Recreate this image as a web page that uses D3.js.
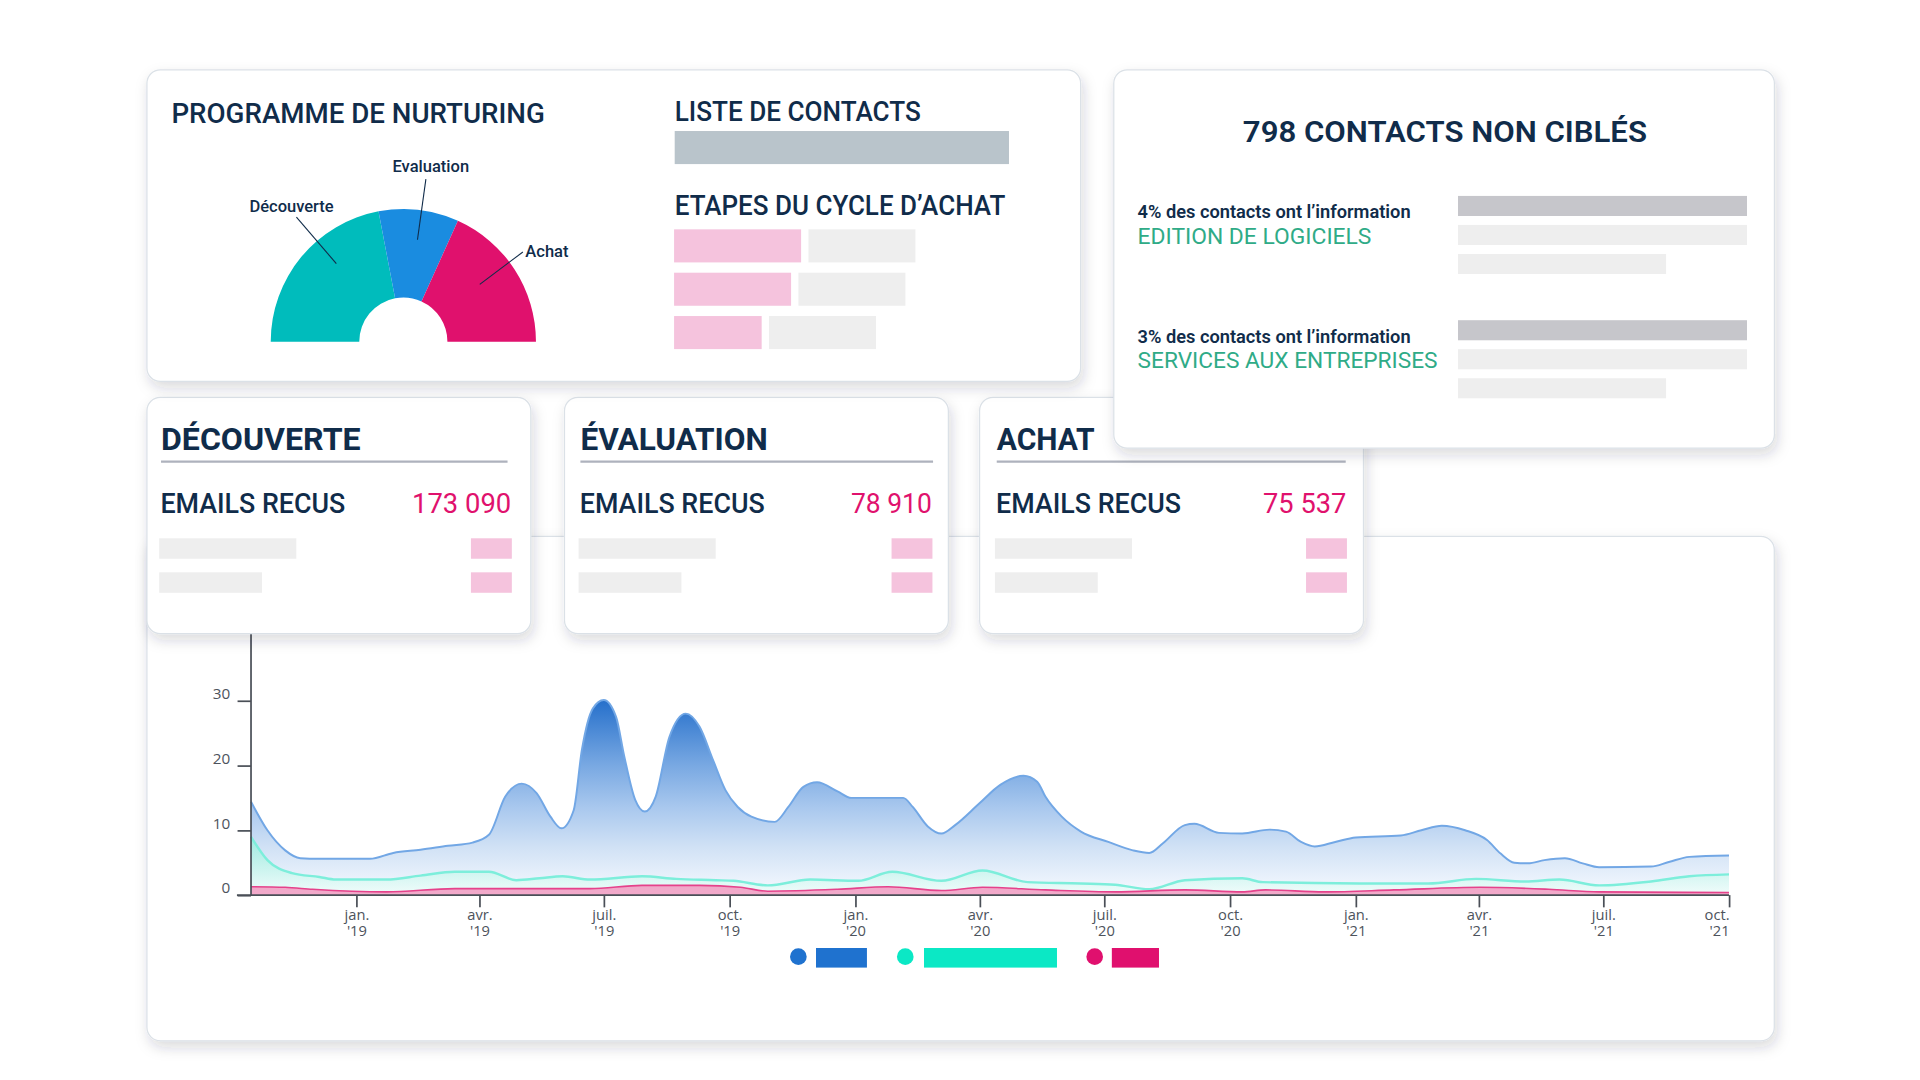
<!DOCTYPE html>
<html lang="fr">
<head>
<meta charset="utf-8">
<title>Programme de nurturing</title>
<script src="https://cdn.jsdelivr.net/npm/d3@7"></script>
<style>
  html, body { margin: 0; padding: 0; background: #fff; }
  svg { display: block; }
  text { font-family: Roboto, "Noto Sans", sans-serif; }
  .tick text { font-family: "Open Sans", sans-serif; }
</style>
</head>
<body>
<svg id="board" width="1920" height="1080" viewBox="0 0 1568 882"></svg>
<script>
// ---- data ----
var gaugeLabels = ["Découverte", "Evaluation", "Achat"];
var gaugeValues = [44, 19.5, 36.5];

var stageNames = ["DÉCOUVERTE", "ÉVALUATION", "ACHAT"];
var emailCounts = [173090, 78910, 75537];

var sectorShares = [4, 3];
var sectorNames = ["EDITION DE LOGICIELS", "SERVICES AUX ENTREPRISES"];

// placeholder bars, in % of the bar area
var cycleStagesPink = [38, 35, 26.2];
var cycleStagesGrey = [32, 32, 32];
var sectorBars = [100, 100, 72];

var blueDates = ["2018-10-16","2018-10-28","2018-11-10","2018-11-21","2018-12-05","2019-01-11","2019-01-28",
  "2019-02-17","2019-03-09","2019-03-27","2019-04-08","2019-04-20","2019-05-02","2019-05-13","2019-05-23",
  "2019-05-31","2019-06-09","2019-06-15","2019-06-23","2019-07-01","2019-07-10","2019-07-16","2019-07-24",
  "2019-07-31","2019-08-08","2019-08-18","2019-08-30","2019-09-09","2019-09-19","2019-09-28","2019-10-07",
  "2019-10-17","2019-11-03","2019-11-13","2019-11-24","2019-12-04","2019-12-19","2019-12-29","2020-01-18",
  "2020-02-05","2020-02-12","2020-02-23","2020-03-04","2020-03-14","2020-04-01","2020-04-16","2020-05-03",
  "2020-05-13","2020-05-19","2020-05-31","2020-06-14","2020-07-04","2020-07-22","2020-08-03","2020-08-13",
  "2020-08-29","2020-09-05","2020-09-23","2020-10-10","2020-10-30","2020-11-11","2020-11-22","2020-12-02",
  "2020-12-17","2021-01-01","2021-02-03","2021-02-18","2021-03-05","2021-03-22","2021-04-07","2021-04-17",
  "2021-04-27","2021-05-07","2021-05-19","2021-06-03","2021-06-16","2021-06-28","2021-08-05","2021-08-18",
  "2021-09-02","2021-10-01"];
var blueValues = [14.4,10.0,6.9,5.7,5.6,5.6,6.5,
  7.0,7.6,8.1,9.3,15.2,17.2,15.7,12.1,
  10.3,13.1,22.4,28.8,30.1,27.5,21.4,14.7,
  12.9,15.2,24.4,28.0,26.0,20.8,16.2,13.6,
  12.1,11.3,13.6,16.7,17.4,16.0,15.0,15.0,
  15.0,13.6,10.6,9.5,10.8,14.2,17.0,18.4,
  17.5,15.2,12.1,9.8,8.2,6.9,6.5,8.0,
  10.8,11.0,9.6,9.5,10.1,9.8,8.2,7.5,
  8.2,8.9,9.2,10.0,10.7,10.0,8.5,6.4,
  5.0,4.9,5.4,5.7,4.9,4.3,4.4,5.1,
  5.9,6.1];

var tealDates = ["2018-10-16","2018-10-28","2018-11-15","2018-12-05","2018-12-17","2019-01-23","2019-02-17",
  "2019-03-14","2019-04-08","2019-04-28","2019-05-15","2019-06-01","2019-06-21","2019-07-29","2019-08-23",
  "2019-09-21","2019-10-04","2019-10-29","2019-11-29","2020-01-03","2020-01-28","2020-03-04","2020-04-03",
  "2020-05-06","2020-06-14","2020-07-09","2020-08-03","2020-08-29","2020-10-10","2020-10-25","2021-01-04",
  "2021-02-23","2021-03-30","2021-05-05","2021-05-30","2021-06-28","2021-08-05","2021-09-02","2021-10-01"];
var tealValues = [9.0,5.4,3.4,2.8,2.4,2.4,3.0,
  3.6,3.6,2.3,2.6,2.9,2.4,2.9,2.5,
  2.3,2.2,1.5,2.4,2.2,3.6,2.2,3.8,
  2.0,1.8,1.6,0.9,2.3,2.6,2.0,1.8,
  1.8,2.5,2.1,2.4,1.5,2.1,2.9,3.2];

var pinkDates = ["2018-10-16","2018-11-10","2018-11-30","2019-01-23","2019-03-14","2019-05-03","2019-06-21",
  "2019-07-29","2019-09-09","2019-10-09","2019-10-29","2019-12-19","2020-01-25","2020-03-04","2020-04-03",
  "2020-05-19","2020-07-09","2020-08-29","2020-10-10","2020-10-27","2020-12-09","2021-01-29","2021-04-02",
  "2021-05-22","2021-06-28","2021-10-01"];
var pinkValues = [1.3,1.2,0.9,0.5,1.0,1.0,1.0,
  1.5,1.5,1.2,0.6,0.9,1.3,0.7,1.2,
  0.8,0.5,0.8,0.5,0.8,0.5,0.8,1.2,
  0.9,0.5,0.4];

var xTickDates = ["2019-01-01","2019-04-01","2019-07-01","2019-10-01","2020-01-01","2020-04-01",
  "2020-07-01","2020-10-01","2021-01-01","2021-04-01","2021-07-01","2021-10-01"];
var xTickMonths = ["jan.","avr.","juil.","oct.","jan.","avr.","juil.","oct.","jan.","avr.","juil.","oct."];
var xTickYears = ["'19","'19","'19","'19","'20","'20","'20","'20","'21","'21","'21","'21"];
var yTicks = [0, 10, 20, 30];

// ---- setup ----
var navy = "#102c4a", pink = "#e0116d", teal = "#00bcbc", blue = "#1a8ce0";
var svg = d3.select("#board");
var defs = svg.append("defs");
var parse = d3.timeParse("%Y-%m-%d");
var fr = d3.formatLocale({decimal: ",", thousands: " ", grouping: [3], currency: ["", " €"]});
var fmt = fr.format(",d");

var sh = defs.append("filter").attr("id", "shadow")
  .attr("x", "-10%").attr("y", "-10%").attr("width", "125%").attr("height", "135%");
sh.append("feDropShadow").attr("dx", 2).attr("dy", 5).attr("stdDeviation", 5)
  .attr("flood-color", "#1b2a3a").attr("flood-opacity", 0.17);

function panel(x0, y0, w, h) {
  svg.append("rect").attr("x", x0).attr("y", y0).attr("width", w).attr("height", h)
    .attr("rx", 11).attr("fill", "#fff").attr("stroke", "#dbe1e7").attr("stroke-width", 1)
    .attr("filter", "url(#shadow)");
}
function label(txt, x0, y0, size, weight, width, color, anchor) {
  var t = svg.append("text").attr("x", x0).attr("y", y0).attr("font-size", size)
    .attr("font-weight", weight).attr("fill", color || navy)
    .attr("text-anchor", anchor || "start").text(txt);
  if (width) t.attr("textLength", width).attr("lengthAdjust", "spacingAndGlyphs");
  return t;
}

// ---- chart panel ----
panel(120, 438, 1329, 412);

var x = d3.scaleTime().domain([parse("2018-10-16"), parse("2021-10-01")]).range([205, 1412]);
var y = d3.scaleLinear().domain([0, 30]).range([731, 572.2]);

var gB = defs.append("linearGradient").attr("id", "blueFill").attr("gradientUnits", "userSpaceOnUse")
  .attr("x1", 0).attr("x2", 0).attr("y1", y(30)).attr("y2", y(0));
[[0, "#2670cb"], [0.33, "#78a8e2"], [0.55, "#a9c8ee"], [0.75, "#d0e1f5"], [1, "#f7faff"]].forEach(function(s) {
  gB.append("stop").attr("offset", s[0]).attr("stop-color", s[1]);
});
var gT = defs.append("linearGradient").attr("id", "tealFill").attr("gradientUnits", "userSpaceOnUse")
  .attr("x1", 0).attr("x2", 0).attr("y1", y(9)).attr("y2", y(0));
gT.append("stop").attr("offset", 0).attr("stop-color", "#8cefd8").attr("stop-opacity", 0.7);
gT.append("stop").attr("offset", 1).attr("stop-color", "#f0fdfa").attr("stop-opacity", 0.75);

function series(dates, values) {
  return dates.map(function(d, i) { return {date: parse(d), v: values[i]}; });
}
var area = d3.area().x(function(d) { return x(d.date); }).y0(y(0))
  .y1(function(d) { return y(d.v); }).curve(d3.curveMonotoneX);
var line = d3.line().x(function(d) { return x(d.date); })
  .y(function(d) { return y(d.v); }).curve(d3.curveMonotoneX);

var blueS = series(blueDates, blueValues);
var tealS = series(tealDates, tealValues);
var pinkS = series(pinkDates, pinkValues);

svg.append("path").datum(blueS).attr("d", area).attr("fill", "url(#blueFill)");
svg.append("path").datum(blueS).attr("d", line).attr("fill", "none")
  .attr("stroke", "#72a7e5").attr("stroke-width", 1.6);
svg.append("path").datum(tealS).attr("d", area).attr("fill", "url(#tealFill)");
svg.append("path").datum(tealS).attr("d", line).attr("fill", "none")
  .attr("stroke", "#7deedb").attr("stroke-width", 2);
svg.append("path").datum(pinkS).attr("d", area).attr("fill", "#f38dba").attr("fill-opacity", 0.75);
svg.append("path").datum(pinkS).attr("d", line).attr("fill", "none")
  .attr("stroke", "#e5428b").attr("stroke-width", 1.3);

var axisColor = "#4a4f57";
var yAxis = svg.append("g").attr("transform", "translate(205,0)")
  .call(d3.axisLeft(y).tickValues(yTicks).tickSize(11).tickPadding(6));
yAxis.select(".domain").remove();
yAxis.selectAll("line").attr("stroke", axisColor).attr("stroke-width", 1.4);
yAxis.selectAll("text").attr("fill", "#4d535c").attr("font-size", 12.5).attr("dy", "-0.15em");

var xAxis = svg.append("g").attr("transform", "translate(0," + y(0) + ")")
  .call(d3.axisBottom(x).tickValues(xTickDates.map(parse)).tickSize(10).tickFormat(""));
xAxis.select(".domain").remove();
xAxis.selectAll("line").attr("stroke", axisColor).attr("stroke-width", 1.4);
xAxis.selectAll(".tick").each(function(d, i) {
  var t = d3.select(this).append("text").attr("fill", "#4d535c").attr("font-size", 12)
    .attr("text-anchor", i === xTickDates.length - 1 ? "end" : "middle");
  t.append("tspan").attr("x", 0).attr("y", 20.5).text(xTickMonths[i]);
  t.append("tspan").attr("x", 0).attr("y", 33.5).text(xTickYears[i]);
});
svg.append("line").attr("x1", 205).attr("x2", 205).attr("y1", 450).attr("y2", y(0))
  .attr("stroke", axisColor).attr("stroke-width", 1.4);
svg.append("line").attr("x1", 193.5).attr("x2", 1412).attr("y1", y(0)).attr("y2", y(0))
  .attr("stroke", axisColor).attr("stroke-width", 1.4);

// legend
var legendColors = ["#1f72cf", "#0be8c5", "#e0106e"];
var legendDots = [652, 739.3, 894];
var legendRects = [[666.4, 41.6], [754.6, 108.6], [908, 38.5]];
legendColors.forEach(function(c, i) {
  svg.append("circle").attr("cx", legendDots[i]).attr("cy", 781.3).attr("r", 6.8).attr("fill", c);
  svg.append("rect").attr("x", legendRects[i][0]).attr("y", 774.2).attr("width", legendRects[i][1])
    .attr("height", 16).attr("fill", c);
});

// ---- stage cards ----
var cardX = [120, 461, 800];
var textX = [131.5, 474, 814];
var rightX = [418, 761.5, 1100];
var sepW = [283, 288, 285];
var titleW = [163, 153, 80];
var valueW = [81, 66, 68];
stageNames.forEach(function(name, i) {
  panel(cardX[i], 324.5, 313.5, 193);
  var right = rightX[i];
  label(name, textX[i], 367.5, 25, 700, titleW[i]);
  svg.append("line").attr("x1", textX[i]).attr("x2", textX[i] + sepW[i]).attr("y1", 377).attr("y2", 377)
    .attr("stroke", "#aeb2bd").attr("stroke-width", 1.8);
  label("EMAILS RECUS", textX[i] - 0.5, 418.7, 22, 500, 151);
  label(fmt(emailCounts[i]), right - 0.5, 418.7, 22, 400, valueW[i], pink, "end");
  svg.append("rect").attr("x", textX[i] - 1.5).attr("y", 439.6).attr("width", 112).attr("height", 16.7).attr("fill", "#eeeeee");
  svg.append("rect").attr("x", textX[i] - 1.5).attr("y", 467.4).attr("width", 84).attr("height", 16.7).attr("fill", "#eeeeee");
  svg.append("rect").attr("x", right - 33.4).attr("y", 439.6).attr("width", 33.4).attr("height", 16.7).attr("fill", "#f5c3dd");
  svg.append("rect").attr("x", right - 33.4).attr("y", 467.4).attr("width", 33.4).attr("height", 16.7).attr("fill", "#f5c3dd");
});

// ---- nurturing panel ----
panel(120, 57, 762.5, 254.5);
label("PROGRAMME DE NURTURING", 140, 100.7, 22, 500, 305);
label("LISTE DE CONTACTS", 551, 98.6, 22, 500, 201);
label("ETAPES DU CYCLE D\u2019ACHAT", 551, 175.6, 22, 500, 270);

var barW = d3.scaleLinear().domain([0, 100]).range([0, 273]);
svg.append("rect").attr("x", 551).attr("y", 107).attr("width", barW(100)).attr("height", 27).attr("fill", "#b9c4cb");
var rowY = [187.3, 222.7, 258.1];
cycleStagesPink.forEach(function(v, i) {
  svg.append("rect").attr("x", 550.5).attr("y", rowY[i]).attr("width", barW(v)).attr("height", 27).attr("fill", "#f5c3dd");
  svg.append("rect").attr("x", 550.5 + barW(v) + 6).attr("y", rowY[i]).attr("width", barW(cycleStagesGrey[i]))
    .attr("height", 27).attr("fill", "#eeeeee");
});

// gauge
var gCx = 329.4, gCy = 279;
var pie = d3.pie().sort(null).startAngle(-Math.PI / 2).endAngle(Math.PI / 2);
var arc = d3.arc().innerRadius(36).outerRadius(108.3);
var gaugeColors = [teal, blue, pink];
var gauge = svg.append("g").attr("transform", "translate(" + gCx + "," + gCy + ")");
var arcs = pie(gaugeValues);
gauge.selectAll("path").data(arcs).join("path").attr("d", arc)
  .attr("fill", function(d, i) { return gaugeColors[i]; });
// leader lines + labels: [angle shift from slice middle, inner r, outer r, dx, dy, anchor]
var leaders = [[0.17, 84, 134, -4, -4.3, "middle"], [0.02, 84, 134, 4, -6, "middle"], [-0.07, 78, 122, 2, 4, "start"]];
arcs.forEach(function(a, i) {
  var L = leaders[i];
  var m = (a.startAngle + a.endAngle) / 2 + L[0];
  var p1 = [Math.sin(m) * L[1], -Math.cos(m) * L[1]], p2 = [Math.sin(m) * L[2], -Math.cos(m) * L[2]];
  gauge.append("line").attr("x1", p1[0]).attr("y1", p1[1]).attr("x2", p2[0]).attr("y2", p2[1])
    .attr("stroke", navy).attr("stroke-width", 0.9);
  gauge.append("text").attr("x", p2[0] + L[3]).attr("y", p2[1] + L[4])
    .attr("text-anchor", L[5]).attr("font-size", 13.5).attr("font-weight", 500)
    .attr("fill", navy).text(gaugeLabels[i]);
});

// ---- contacts panel ----
panel(909.6, 57, 539.5, 309);
label("798 CONTACTS NON CIBL\u00c9S", 1180, 116.2, 24, 600, 330, navy, "middle");
var secTop = [0, 101.5];
var barS = d3.scaleLinear().domain([0, 100]).range([0, 236]);
sectorNames.forEach(function(n, i) {
  var oy = secTop[i];
  label(sectorShares[i] + "% des contacts ont l\u2019information", 929, 178.3 + oy, 15, 600, 223);
  label(n, 929, 199.3 + oy, 17.5, 400, i === 0 ? 191 : 245, "#2fab87");
  var bc = ["#c6c6cb", "#eeeeee", "#eeeeee"];
  sectorBars.forEach(function(v, j) {
    svg.append("rect").attr("x", 1190.7).attr("y", 160 + oy + j * 23.7).attr("width", barS(v))
      .attr("height", 16.4).attr("fill", bc[j]);
  });
});
</script>
</body>
</html>
